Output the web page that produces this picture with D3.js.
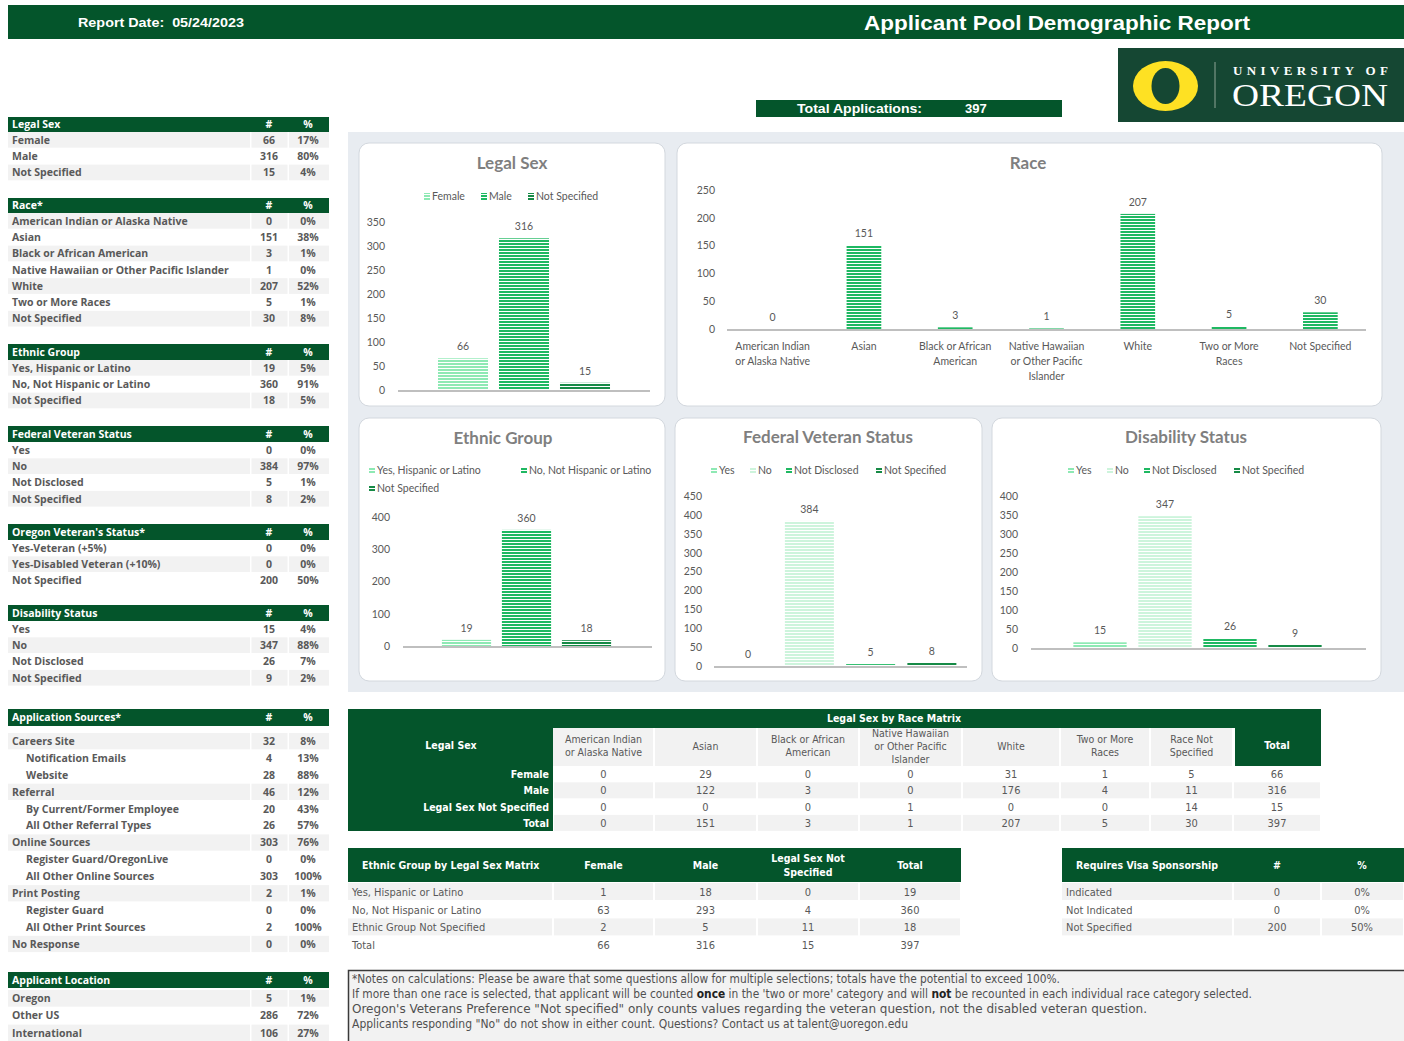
<!DOCTYPE html>
<html>
<head>
<meta charset="utf-8">
<script src="https://cdn.jsdelivr.net/npm/d3@7"></script>
<style>
  body { margin: 0; background: #fff; }
</style>
</head>
<body>
<div id="page"></div>
<script>
// ---- data ----
const reportDate = "05/24/2023";
const reportTitle = "Applicant Pool Demographic Report";
const totalApplications = 397;

const legalSexCats = ["Female", "Male", "Not Specified"];
const legalSexVals = [66, 316, 15];
const legalSexPct = ["17%", "80%", "4%"];

const raceCats = ["American Indian or Alaska Native", "Asian", "Black or African American",
  "Native Hawaiian or Other Pacific Islander", "White", "Two or More Races", "Not Specified"];
const raceVals = [0, 151, 3, 1, 207, 5, 30];
const racePct = ["0%", "38%", "1%", "0%", "52%", "1%", "8%"];
const raceAxisLabels = [["American Indian", "or Alaska Native"], ["Asian"], ["Black or African", "American"],
  ["Native Hawaiian", "or Other Pacific", "Islander"], ["White"], ["Two or More", "Races"], ["Not Specified"]];

const ethnicCats = ["Yes, Hispanic or Latino", "No, Not Hispanic or Latino", "Not Specified"];
const ethnicVals = [19, 360, 18];
const ethnicPct = ["5%", "91%", "5%"];

const fedVetCats = ["Yes", "No", "Not Disclosed", "Not Specified"];
const fedVetVals = [0, 384, 5, 8];
const fedVetPct = ["0%", "97%", "1%", "2%"];

const orVetCats = ["Yes-Veteran (+5%)", "Yes-Disabled Veteran (+10%)", "Not Specified"];
const orVetVals = [0, 0, 200];
const orVetPct = ["0%", "0%", "50%"];

const disabCats = ["Yes", "No", "Not Disclosed", "Not Specified"];
const disabVals = [15, 347, 26, 9];
const disabPct = ["4%", "88%", "7%", "2%"];

const sourceCats = ["Careers Site", "Notification Emails", "Website", "Referral", "By Current/Former Employee",
  "All Other Referral Types", "Online Sources", "Register Guard/OregonLive", "All Other Online Sources",
  "Print Posting", "Register Guard", "All Other Print Sources", "No Response"];
const sourceLevel = [0, 1, 1, 0, 1, 1, 0, 1, 1, 0, 1, 1, 0];
const sourceVals = [32, 4, 28, 46, 20, 26, 303, 0, 303, 2, 0, 2, 0];
const sourcePct = ["8%", "13%", "88%", "12%", "43%", "57%", "76%", "0%", "100%", "1%", "0%", "100%", "0%"];

const locationCats = ["Oregon", "Other US", "International"];
const locationVals = [5, 286, 106];
const locationPct = ["1%", "72%", "27%"];

const ticksLegalSex = [0, 50, 100, 150, 200, 250, 300, 350];
const ticksRace = [0, 50, 100, 150, 200, 250];
const ticksEthnic = [0, 100, 200, 300, 400];
const ticksFedVet = [0, 50, 100, 150, 200, 250, 300, 350, 400, 450];
const ticksDisab = [0, 50, 100, 150, 200, 250, 300, 350, 400];

const sexRaceCols = [["American Indian", "or Alaska Native"], ["Asian"], ["Black or African", "American"],
  ["Native Hawaiian", "or Other Pacific", "Islander"], ["White"], ["Two or More", "Races"], ["Race Not", "Specified"]];
const sexRaceRows = ["Female", "Male", "Legal Sex Not Specified", "Total"];
const sexRaceVals = [
  [0, 29, 0, 0, 31, 1, 5, 66],
  [0, 122, 3, 0, 176, 4, 11, 316],
  [0, 0, 0, 1, 0, 0, 14, 15],
  [0, 151, 3, 1, 207, 5, 30, 397]
];

const ethSexCols = [["Female"], ["Male"], ["Legal Sex Not", "Specified"], ["Total"]];
const ethSexRows = ["Yes, Hispanic or Latino", "No, Not Hispanic or Latino", "Ethnic Group Not Specified", "Total"];
const ethSexVals = [[1, 18, 0, 19], [63, 293, 4, 360], [2, 5, 11, 18], [66, 316, 15, 397]];

const visaCats = ["Indicated", "Not Indicated", "Not Specified"];
const visaVals = [0, 0, 200];
const visaPct = ["0%", "0%", "50%"];

const noteLines = [
  [["*Notes on calculations: Please be aware that some questions allow for multiple selections; totals have the potential to exceed 100%.", false]],
  [["If more than one race is selected, that applicant will be counted ", false], ["once", true],
   [" in the 'two or more' category and will ", false], ["not", true],
   [" be recounted in each individual race category selected.", false]],
  [["Oregon's Veterans Preference \"Not specified\" only counts values regarding the veteran question, not the disabled veteran question.", false]],
  [["Applicants responding \"No\" do not show in either count. Questions? Contact us at talent@uoregon.edu", false]]
];

// ---- styles ----
const GREEN = "#04552b";
const ROW_GRAY = "#f2f2f2";
const TXT = "#595959";
const TABLE_FONT = "'Open Sans', 'Liberation Sans', sans-serif";
const NARROW_FONT = "'Liberation Sans Narrow', 'DejaVu Sans Condensed', 'Arial Narrow', sans-serif";
const CHART_FONT = "Lato, 'Open Sans', sans-serif";
const shade = { light: "#8ee9b4", mid: "#1fb862", dark: "#168a46", pale: "#cdf4dc" };

const svg = d3.select("#page").append("svg")
    .attr("width", 1404)
    .attr("height", 1041)
    .style("display", "block");
svg.append("rect").attr("width", 1404).attr("height", 1041).attr("fill", "#fff");

const defs = svg.append("defs");
Object.entries(shade).forEach(([key, color]) => {
    const p = defs.append("pattern")
        .attr("id", "stripe-" + key)
        .attr("patternUnits", "userSpaceOnUse")
        .attr("width", 4)
        .attr("height", 3);
    p.append("rect").attr("width", 4).attr("height", 3).attr("fill", "#fff");
    p.append("rect").attr("width", 4).attr("height", 2).attr("fill", color);
});

// ---- header ----
svg.append("rect").attr("x", 8).attr("y", 5).attr("width", 1396).attr("height", 34).attr("fill", GREEN);
svg.append("text")
    .attr("x", 78).attr("y", 27)
    .attr("font-family", "'Liberation Sans', Arial, sans-serif")
    .attr("font-weight", "bold").attr("font-size", 13).attr("fill", "#fff")
    .attr("xml:space", "preserve")
    .attr("textLength", 166).attr("lengthAdjust", "spacingAndGlyphs")
    .text("Report Date:  " + reportDate);
svg.append("text")
    .attr("x", 864).attr("y", 30)
    .attr("font-family", "'Liberation Sans', Arial, sans-serif")
    .attr("font-weight", "bold").attr("font-size", 21).attr("fill", "#fff")
    .attr("textLength", 386).attr("lengthAdjust", "spacingAndGlyphs")
    .text(reportTitle);

svg.append("rect").attr("x", 756).attr("y", 100).attr("width", 306).attr("height", 17).attr("fill", GREEN);
svg.append("text").attr("x", 797).attr("y", 113)
    .attr("font-family", "'Liberation Sans', Arial, sans-serif")
    .attr("font-weight", "bold").attr("font-size", 13).attr("fill", "#fff")
    .attr("textLength", 125).attr("lengthAdjust", "spacingAndGlyphs")
    .text("Total Applications:");
svg.append("text").attr("x", 965).attr("y", 113)
    .attr("font-family", "'Liberation Sans', Arial, sans-serif")
    .attr("font-weight", "bold").attr("font-size", 13).attr("fill", "#fff")
    .text(totalApplications);

// logo
const logo = svg.append("g");
logo.append("rect").attr("x", 1118).attr("y", 48).attr("width", 286).attr("height", 74).attr("fill", "#154733");
logo.append("ellipse").attr("cx", 1165.5).attr("cy", 86).attr("rx", 32.5).attr("ry", 25).attr("fill", "#fee123");
logo.append("ellipse").attr("cx", 1165.5).attr("cy", 86).attr("rx", 14).attr("ry", 18).attr("fill", "#154733");
logo.append("line").attr("x1", 1215).attr("x2", 1215).attr("y1", 62).attr("y2", 108)
    .attr("stroke", "#8fa597").attr("stroke-width", 1);
logo.append("text").attr("x", 1233).attr("y", 75)
    .attr("font-family", "'Liberation Serif', 'DejaVu Serif', serif")
    .attr("font-weight", "bold").attr("font-size", 13).attr("fill", "#fff")
    .attr("textLength", 155).attr("lengthAdjust", "spacing")
    .text("UNIVERSITY OF");
logo.append("text").attr("x", 1232).attr("y", 106)
    .attr("font-family", "'Liberation Serif', 'DejaVu Serif', serif")
    .attr("font-size", 32).attr("fill", "#fff")
    .attr("textLength", 156).attr("lengthAdjust", "spacingAndGlyphs")
    .text("OREGON");

// ---- left summary tables ----
function drawTable({title, top, headH, rowsTop, rowH, labels, vals, pct, levels, grayRows}) {
    const g = svg.append("g").attr("font-family", TABLE_FONT).attr("font-weight", "bold").attr("font-size", 10.5);
    g.append("rect").attr("x", 8).attr("y", top).attr("width", 321).attr("height", headH).attr("fill", GREEN);
    const hy = top + headH / 2 + 3.5;
    g.append("text").attr("x", 12).attr("y", hy).attr("fill", "#fff").text(title);
    g.append("text").attr("x", 269).attr("y", hy).attr("fill", "#fff").attr("text-anchor", "middle").text("#");
    g.append("text").attr("x", 308).attr("y", hy).attr("fill", "#fff").attr("text-anchor", "middle").text("%");
    labels.forEach((lab, i) => {
        const y = rowsTop + i * rowH;
        if (grayRows(i)) {
            [[8, 242], [251.5, 36], [289, 40]].forEach(([x, w]) => {
                g.append("rect").attr("x", x).attr("y", y).attr("width", w).attr("height", rowH - 0.6).attr("fill", ROW_GRAY);
            });
        }
        const ty = y + rowH / 2 + 3.5;
        g.append("text").attr("x", levels && levels[i] ? 26 : 12).attr("y", ty).attr("fill", TXT).text(lab);
        g.append("text").attr("x", 269).attr("y", ty).attr("fill", TXT).attr("text-anchor", "middle").text(vals[i]);
        g.append("text").attr("x", 308).attr("y", ty).attr("fill", TXT).attr("text-anchor", "middle").text(pct[i]);
    });
}

const even = i => i % 2 === 0;
const odd = i => i % 2 === 1;
drawTable({title: "Legal Sex", top: 117, headH: 15, rowsTop: 132, rowH: 16.3, labels: legalSexCats, vals: legalSexVals, pct: legalSexPct, grayRows: even});
drawTable({title: "Race*", top: 198, headH: 15, rowsTop: 213, rowH: 16.3, labels: raceCats, vals: raceVals, pct: racePct, grayRows: even});
drawTable({title: "Ethnic Group", top: 344, headH: 16, rowsTop: 360, rowH: 16.3, labels: ethnicCats, vals: ethnicVals, pct: ethnicPct, grayRows: even});
drawTable({title: "Federal Veteran Status", top: 426, headH: 16, rowsTop: 442, rowH: 16.3, labels: fedVetCats, vals: fedVetVals, pct: fedVetPct, grayRows: odd});
drawTable({title: "Oregon Veteran's Status*", top: 524, headH: 16, rowsTop: 540, rowH: 16.3, labels: orVetCats, vals: orVetVals, pct: orVetPct, grayRows: odd});
drawTable({title: "Disability Status", top: 605, headH: 16, rowsTop: 621, rowH: 16.3, labels: disabCats, vals: disabVals, pct: disabPct, grayRows: odd});
drawTable({title: "Application Sources*", top: 709, headH: 17, rowsTop: 733, rowH: 16.9, labels: sourceCats, vals: sourceVals, pct: sourcePct, levels: sourceLevel, grayRows: i => sourceLevel[i] === 0});
drawTable({title: "Applicant Location", top: 972, headH: 16, rowsTop: 990, rowH: 17.3, labels: locationCats, vals: locationVals, pct: locationPct, grayRows: even});

// ---- chart panel ----
svg.append("rect").attr("x", 348).attr("y", 132).attr("width", 1056).attr("height", 560).attr("fill", "#e8ecf1");

function drawChart(cfg) {
    const g = svg.append("g");
    const [cx, cy, cw, ch] = cfg.card;
    g.append("rect").attr("x", cx).attr("y", cy).attr("width", cw).attr("height", ch)
        .attr("rx", 10).attr("fill", "#fff").attr("stroke", "#d3d8de");
    g.append("text").attr("x", cfg.titleX).attr("y", cfg.titleY)
        .attr("text-anchor", "middle").attr("font-family", CHART_FONT)
        .attr("font-weight", "bold").attr("font-size", 17).attr("fill", "#7f7f7f")
        .text(cfg.title);

    const y = d3.scaleLinear().domain([0, d3.max(cfg.ticks)]).range(cfg.yRange);
    const x = d3.scaleBand().domain(cfg.cats).range(cfg.band)
        .paddingInner(cfg.pad).paddingOuter(cfg.pad / 2);

    const ax = g.append("g")
        .attr("transform", `translate(${cfg.labelRight},0)`)
        .call(d3.axisLeft(y).tickValues(cfg.ticks).tickSize(0).tickPadding(0));
    ax.select(".domain").remove();
    ax.attr("font-family", CHART_FONT).attr("font-size", 10.5);
    ax.selectAll("text").attr("fill", TXT);

    g.selectAll(null)
        .data(cfg.cats)
        .join("rect")
        .attr("x", d => x(d))
        .attr("y", (d, i) => y(cfg.vals[i]))
        .attr("width", x.bandwidth())
        .attr("height", (d, i) => y(0) - y(cfg.vals[i]))
        .attr("fill", (d, i) => `url(#stripe-${cfg.colors[i]})`);

    g.append("line")
        .attr("x1", cfg.axisLine[0]).attr("x2", cfg.axisLine[1])
        .attr("y1", y(0) + 1).attr("y2", y(0) + 1)
        .attr("stroke", "#bfbfbf").attr("stroke-width", 2);

    g.selectAll(null)
        .data(cfg.cats)
        .join("text")
        .attr("x", d => x(d) + x.bandwidth() / 2)
        .attr("y", (d, i) => y(cfg.vals[i]) - 8)
        .attr("text-anchor", "middle")
        .attr("font-family", CHART_FONT).attr("font-size", 10.5).attr("fill", TXT)
        .text((d, i) => cfg.vals[i]);

    if (cfg.xLabels) {
        cfg.cats.forEach((c, i) => {
            cfg.xLabels[i].forEach((line, j) => {
                g.append("text")
                    .attr("x", x(c) + x.bandwidth() / 2)
                    .attr("y", y(0) + 21 + j * 15)
                    .attr("text-anchor", "middle")
                    .attr("font-family", CHART_FONT).attr("font-size", 10.5).attr("fill", TXT)
                    .text(line);
            });
        });
    }

    if (cfg.legend) {
        cfg.cats.forEach((c, i) => {
            const [lx, ly] = cfg.legend[i];
            g.append("rect").attr("x", lx).attr("y", ly - 3).attr("width", 6).attr("height", 7)
                .attr("fill", `url(#stripe-${cfg.colors[i]})`);
            g.append("text").attr("x", lx + 8).attr("y", ly + 4)
                .attr("font-family", CHART_FONT).attr("font-size", 10.5).attr("fill", TXT)
                .text(c);
        });
    }
}

drawChart({
    title: "Legal Sex", card: [359, 143, 306, 263], titleX: 512, titleY: 169,
    cats: legalSexCats, vals: legalSexVals, ticks: ticksLegalSex,
    yRange: [390, 222], labelRight: 385, axisLine: [398, 650], band: [432.5, 615.5], pad: 0.18,
    colors: ["light", "mid", "dark"],
    legend: [[424, 196], [481, 196], [528, 196]]
});
drawChart({
    title: "Race", card: [677, 143, 705, 263], titleX: 1028, titleY: 169,
    cats: raceCats, vals: raceVals, ticks: ticksRace,
    yRange: [329, 190], labelRight: 715, axisLine: [727, 1366], band: [727, 1366], pad: 0.62,
    colors: raceCats.map(() => "mid"),
    xLabels: raceAxisLabels
});
drawChart({
    title: "Ethnic Group", card: [359, 418, 306, 263], titleX: 503, titleY: 444,
    cats: ethnicCats, vals: ethnicVals, ticks: ticksEthnic,
    yRange: [646, 517], labelRight: 390, axisLine: [403, 652], band: [436.5, 616.5], pad: 0.18,
    colors: ["light", "mid", "dark"],
    legend: [[369, 470], [521, 470], [369, 488]]
});
drawChart({
    title: "Federal Veteran Status", card: [675, 418, 307, 263], titleX: 828, titleY: 443,
    cats: fedVetCats, vals: fedVetVals, ticks: ticksFedVet,
    yRange: [666, 496], labelRight: 702, axisLine: [714, 967], band: [717.5, 962.5], pad: 0.2,
    colors: ["light", "pale", "mid", "dark"],
    legend: [[711, 470], [750, 470], [786, 470], [876, 470]]
});
drawChart({
    title: "Disability Status", card: [992, 418, 389, 263], titleX: 1186, titleY: 443,
    cats: disabCats, vals: disabVals, ticks: ticksDisab,
    yRange: [648, 496], labelRight: 1018, axisLine: [1031, 1366], band: [1067.5, 1327.5], pad: 0.18,
    colors: ["light", "pale", "mid", "dark"],
    legend: [[1068, 470], [1107, 470], [1144, 470], [1234, 470]]
});

// ---- Legal Sex by Race matrix ----
const mx = svg.append("g").attr("font-family", NARROW_FONT).attr("font-size", 11);
const mxCols = [553, 654, 757, 859, 962, 1060, 1150, 1233, 1321];
mx.append("rect").attr("x", 348).attr("y", 709).attr("width", 973).attr("height", 19).attr("fill", GREEN);
mx.append("rect").attr("x", 348).attr("y", 709).attr("width", 205).attr("height", 122).attr("fill", GREEN);
mx.append("rect").attr("x", 1235).attr("y", 709).attr("width", 86).attr("height", 57).attr("fill", GREEN);
mx.append("text").attr("x", 894).attr("y", 722).attr("text-anchor", "middle").attr("font-size", 10.5)
    .attr("font-weight", "bold").attr("fill", "#fff").text("Legal Sex by Race Matrix");
mx.append("text").attr("x", 451).attr("y", 749).attr("text-anchor", "middle").attr("font-size", 10.5)
    .attr("font-weight", "bold").attr("fill", "#fff").text("Legal Sex");
mx.append("text").attr("x", 1277).attr("y", 749).attr("text-anchor", "middle").attr("font-size", 10.5)
    .attr("font-weight", "bold").attr("fill", "#fff").text("Total");
sexRaceCols.forEach((lines, j) => {
    const x0 = mxCols[j] + (j ? 1 : 0), x1 = mxCols[j + 1] - 1;
    mx.append("rect").attr("x", x0).attr("y", 728).attr("width", x1 - x0).attr("height", 38).attr("fill", ROW_GRAY);
    lines.forEach((line, k) => {
        mx.append("text").attr("x", (mxCols[j] + mxCols[j + 1]) / 2)
            .attr("y", 749.5 + (k - (lines.length - 1) / 2) * 13)
            .attr("text-anchor", "middle").attr("font-size", 10.5).attr("fill", TXT).text(line);
    });
});
sexRaceRows.forEach((r, i) => {
    const y = 766 + i * 16.3;
    if (i % 2 === 1) {
        for (let j = 0; j < mxCols.length - 1; j++) {
            const x0 = mxCols[j] + 1, x1 = mxCols[j + 1] - 1;
            mx.append("rect").attr("x", x0).attr("y", y).attr("width", x1 - x0).attr("height", 16).attr("fill", ROW_GRAY);
        }
    }
    mx.append("text").attr("x", 549).attr("y", y + 12).attr("text-anchor", "end").attr("font-size", 10.5)
        .attr("font-weight", "bold").attr("fill", "#fff").text(r);
    sexRaceVals[i].forEach((v, j) => {
        mx.append("text").attr("x", (mxCols[j] + mxCols[j + 1]) / 2).attr("y", y + 12)
            .attr("text-anchor", "middle").attr("fill", TXT).text(v);
    });
});

// ---- Ethnic Group by Legal Sex matrix ----
const em = svg.append("g").attr("font-family", NARROW_FONT).attr("font-size", 11);
const emCols = [553, 654, 757, 859, 961];
em.append("rect").attr("x", 348).attr("y", 848).attr("width", 613).attr("height", 34).attr("fill", GREEN);
em.append("text").attr("x", 362).attr("y", 869).attr("font-weight", "bold").attr("font-size", 10.5).attr("fill", "#fff")
    .text("Ethnic Group by Legal Sex Matrix");
ethSexCols.forEach((lines, j) => {
    lines.forEach((line, k) => {
        em.append("text").attr("x", (emCols[j] + emCols[j + 1]) / 2)
            .attr("y", 869 + (k - (lines.length - 1) / 2) * 14)
            .attr("text-anchor", "middle").attr("font-weight", "bold").attr("font-size", 10.5)
            .attr("fill", "#fff").text(line);
    });
});
ethSexRows.forEach((r, i) => {
    const y = 883 + i * 17.7;
    if (i % 2 === 0) {
        const bounds = [348].concat(emCols);
        for (let j = 0; j < bounds.length - 1; j++) {
            const x0 = bounds[j] + (j ? 1 : 0), x1 = bounds[j + 1] - 1;
            em.append("rect").attr("x", x0).attr("y", y).attr("width", x1 - x0).attr("height", 17).attr("fill", ROW_GRAY);
        }
    }
    em.append("text").attr("x", 352).attr("y", y + 13).attr("fill", TXT).text(r);
    ethSexVals[i].forEach((v, j) => {
        em.append("text").attr("x", (emCols[j] + emCols[j + 1]) / 2).attr("y", y + 13)
            .attr("text-anchor", "middle").attr("fill", TXT).text(v);
    });
});

// ---- Visa sponsorship ----
const vm = svg.append("g").attr("font-family", NARROW_FONT).attr("font-size", 11);
const vmCols = [1062, 1233, 1321, 1404];
vm.append("rect").attr("x", 1062).attr("y", 848).attr("width", 342).attr("height", 34).attr("fill", GREEN);
vm.append("text").attr("x", 1076).attr("y", 869).attr("font-weight", "bold").attr("font-size", 10.5).attr("fill", "#fff").text("Requires Visa Sponsorship");
vm.append("text").attr("x", 1277).attr("y", 869).attr("text-anchor", "middle").attr("font-weight", "bold").attr("font-size", 10.5).attr("fill", "#fff").text("#");
vm.append("text").attr("x", 1362).attr("y", 869).attr("text-anchor", "middle").attr("font-weight", "bold").attr("font-size", 10.5).attr("fill", "#fff").text("%");
visaCats.forEach((c, i) => {
    const y = 883 + i * 17.7;
    if (i % 2 === 0) {
        for (let j = 0; j < vmCols.length - 1; j++) {
            const x0 = vmCols[j] + (j ? 1 : 0), x1 = vmCols[j + 1] - 1;
            vm.append("rect").attr("x", x0).attr("y", y).attr("width", x1 - x0).attr("height", 17).attr("fill", ROW_GRAY);
        }
    }
    vm.append("text").attr("x", 1066).attr("y", y + 13).attr("fill", TXT).text(c);
    vm.append("text").attr("x", 1277).attr("y", y + 13).attr("text-anchor", "middle").attr("fill", TXT).text(visaVals[i]);
    vm.append("text").attr("x", 1362).attr("y", y + 13).attr("text-anchor", "middle").attr("fill", TXT).text(visaPct[i]);
});

// ---- notes ----
const nb = svg.append("g");
nb.append("rect").attr("x", 348).attr("y", 970).attr("width", 1056).attr("height", 71).attr("fill", ROW_GRAY);
nb.append("path").attr("d", "M348.5,1041V970.5H1404").attr("fill", "none").attr("stroke", "#3a3a3a").attr("stroke-width", 1.5);
const noteWidths = [708, 900, 795, 556];
noteLines.forEach((segs, i) => {
    const t = nb.append("text")
        .attr("x", 352).attr("y", 983 + i * 15)
        .attr("font-family", NARROW_FONT).attr("font-size", 11.5).attr("fill", "#505050")
        .attr("textLength", noteWidths[i]).attr("lengthAdjust", "spacingAndGlyphs")
        .attr("xml:space", "preserve");
    segs.forEach(([s, b]) => {
        t.append("tspan").attr("font-weight", b ? "bold" : null).attr("fill", b ? "#222" : null).text(s);
    });
});
</script>
</body>
</html>
